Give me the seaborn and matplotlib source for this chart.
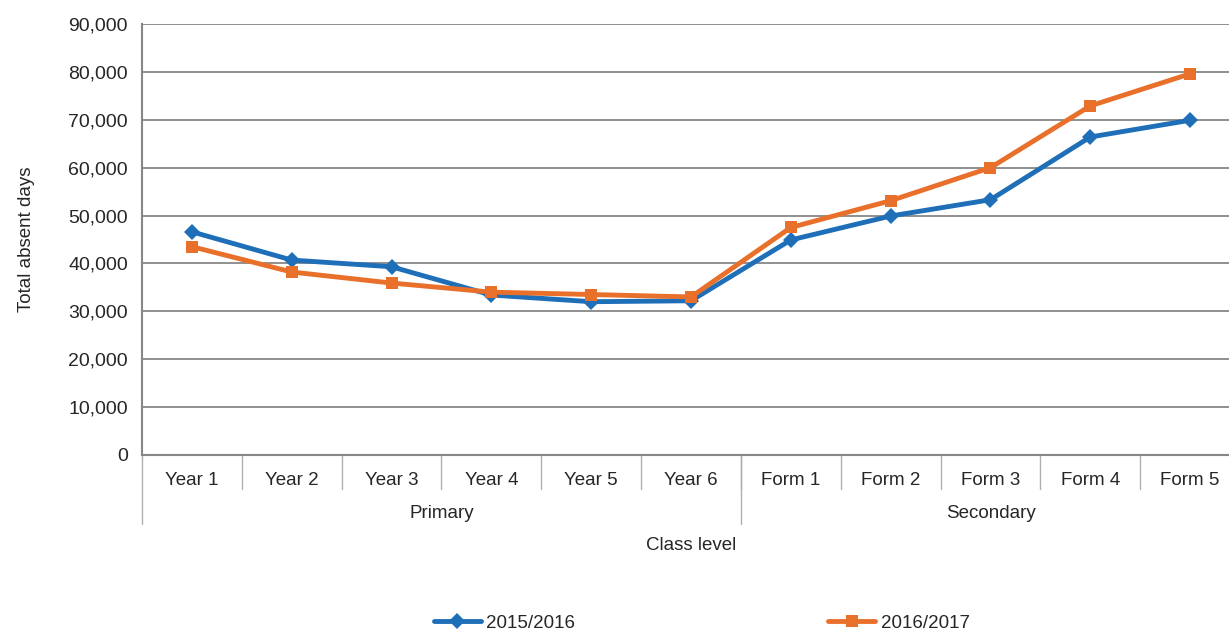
import matplotlib
matplotlib.use("Agg")
import matplotlib.pyplot as plt
import matplotlib.transforms as mtransforms
import pandas as pd
import seaborn as sns
from matplotlib.ticker import FuncFormatter, MultipleLocator

classes = ["Year 1", "Year 2", "Year 3", "Year 4", "Year 5", "Year 6",
           "Form 1", "Form 2", "Form 3", "Form 4", "Form 5"]
groups = ["Primary", "Secondary"]
group_sizes = [6, 5]
absent_2015 = [46600, 40700, 39300, 33400, 32000, 32200, 44900, 49900, 53300, 66400, 69900]
absent_2016 = [43500, 38200, 35900, 34000, 33500, 33000, 47500, 53100, 60000, 72900, 79600]
series = ["2015/2016", "2016/2017"]

df = pd.concat([
    pd.DataFrame({"class": classes, "days": absent_2015, "year": series[0]}),
    pd.DataFrame({"class": classes, "days": absent_2016, "year": series[1]}),
])

sns.set_style("white")
plt.rcParams["font.family"] = ["Liberation Sans", "DejaVu Sans"]
grey = "#878787"
fs = 13.5

fig = plt.figure(figsize=(12.29, 6.31), dpi=100)
ax = fig.add_axes([0.1155, 0.279, 0.8935, 0.683])

sns.lineplot(data=df, x="class", y="days", hue="year", style="year",
             palette=["#1F6FB8", "#E8702A"], markers=["D", "s"], dashes=False,
             linewidth=3.5, markersize=8, markeredgewidth=0, ax=ax, sort=False)

ax.set_ylim(0, 90000)
ax.set_xlim(-0.5, len(classes) - 0.5)
ax.yaxis.set_major_locator(MultipleLocator(10000))
ax.yaxis.set_major_formatter(FuncFormatter(lambda v, p: f"{int(v):,}"))
ax.grid(axis="y", color=grey, linewidth=1.3)
ax.set_axisbelow(True)
for s in ["top", "right"]:
    ax.spines[s].set_visible(False)
ax.spines["left"].set_color(grey)
ax.spines["left"].set_linewidth(1.5)
ax.spines["bottom"].set_color(grey)
ax.spines["bottom"].set_linewidth(1.5)
ax.tick_params(axis="y", length=6, color=grey, width=1.3, labelsize=14, pad=4)
ax.tick_params(axis="x", length=0, labelsize=fs, pad=12)
ax.set_ylabel("Total absent days", fontsize=fs, labelpad=24)
ax.set_xlabel("")

# category separators and group labels below the axis
trans = mtransforms.blended_transform_factory(ax.transData, ax.transAxes)
for i in range(1, len(classes)):
    ax.plot([i - 0.5, i - 0.5], [0, -0.08], transform=trans, color="#b0b0b0",
            linewidth=1, clip_on=False)
start = 0
for g, n in zip(groups, group_sizes):
    ax.plot([start - 0.5, start - 0.5], [0, -0.16], transform=trans, color="#b0b0b0",
            linewidth=1, clip_on=False)
    ax.text(start + (n - 1) / 2, -0.137, g, transform=trans, ha="center", va="center",
            fontsize=fs)
    start += n
ax.text(0.5, -0.21, "Class level", transform=ax.transAxes, ha="center", va="center",
        fontsize=fs)

handles, labels = ax.get_legend_handles_labels()
ax.legend_.remove()
fig.legend(handles, labels, loc="center", bbox_to_anchor=(0.571, 0.012), ncol=2,
           frameon=False, fontsize=fs, columnspacing=13.5, handlelength=2.5,
           handletextpad=0.3)

fig.savefig("out.png", dpi=100)
